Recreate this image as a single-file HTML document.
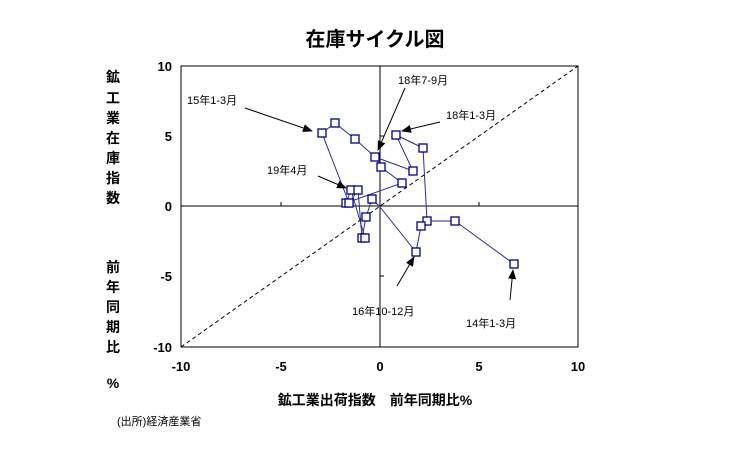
<!DOCTYPE html><html><head><meta charset="utf-8"><style>body{margin:0;background:#fff}svg text{font-family:"Liberation Sans","Noto Sans CJK JP",sans-serif}</style></head><body>
<svg width="746" height="457" xmlns="http://www.w3.org/2000/svg">
<defs><marker id="ar" markerWidth="10" markerHeight="8" refX="9" refY="4" orient="auto" markerUnits="userSpaceOnUse"><path d="M0,0L10,4L0,8z" fill="#000"/></marker></defs>
<text x="375" y="46" font-size="20" font-weight="bold" text-anchor="middle">在庫サイクル図</text>
<rect x="181" y="66" width="397" height="281" fill="none" stroke="#000" stroke-width="1"/>
<line x1="181" y1="206" x2="578" y2="206" stroke="#000"/>
<line x1="380" y1="66" x2="380" y2="347" stroke="#000"/>
<g stroke="#000"><line x1="281" y1="206" x2="281" y2="202"/><line x1="479" y1="206" x2="479" y2="202"/><line x1="380" y1="136" x2="384" y2="136"/><line x1="380" y1="276" x2="384" y2="276"/></g>
<line x1="181" y1="347" x2="578" y2="66" stroke="#000" stroke-dasharray="4,3"/>
<g font-size="13" font-weight="bold" text-anchor="middle"><text x="181" y="371">-10</text><text x="281" y="371">-5</text><text x="380" y="371">0</text><text x="479" y="371">5</text><text x="578" y="371">10</text></g>
<g font-size="13" font-weight="bold" text-anchor="end"><text x="172" y="71">10</text><text x="172" y="141">5</text><text x="172" y="211">0</text><text x="172" y="281">-5</text><text x="172" y="352">-10</text></g>
<g font-size="14" font-weight="bold" text-anchor="middle"><text x="113" y="82">鉱</text><text x="113" y="103">工</text><text x="113" y="123">業</text><text x="113" y="143">在</text><text x="113" y="163">庫</text><text x="113" y="183">指</text><text x="113" y="203">数</text><text x="113" y="272">前</text><text x="113" y="292">年</text><text x="113" y="312">同</text><text x="113" y="332">期</text><text x="113" y="352">比</text><text x="113" y="388">%</text></g>
<text x="375" y="405" font-size="14" font-weight="bold" text-anchor="middle">鉱工業出荷指数　前年同期比%</text>
<text x="117" y="425" font-size="11">(出所)経済産業省</text>
<polyline fill="none" stroke="#2a2a9a" stroke-width="1" points="514,264 455,221 427,221 421,226 416,252 380,207 372,199 366,217 362,238 358,190 349,203 322,133 335,123 355,139 375,157 413,171 396,135 423,148 427,221"/>
<polyline fill="none" stroke="#2a2a9a" stroke-width="1" points="375,157 381,167 402,183 346,203 351,190 365,238"/>
<g fill="#fff" stroke="#00008b" stroke-width="1.3">
<rect x="510" y="260" width="8" height="8"/><rect x="451" y="217" width="8" height="8"/><rect x="423" y="217" width="8" height="8"/><rect x="417" y="222" width="8" height="8"/><rect x="412" y="248" width="8" height="8"/><rect x="368" y="195" width="8" height="8"/><rect x="362" y="213" width="8" height="8"/><rect x="358" y="234" width="8" height="8"/><rect x="361" y="234" width="8" height="8"/><rect x="347" y="186" width="8" height="8"/><rect x="354" y="186" width="8" height="8"/><rect x="342" y="199" width="8" height="8"/><rect x="345" y="199" width="8" height="8"/><rect x="318" y="129" width="8" height="8"/><rect x="331" y="119" width="8" height="8"/><rect x="351" y="135" width="8" height="8"/><rect x="371" y="153" width="8" height="8"/><rect x="377" y="163" width="8" height="8"/><rect x="409" y="167" width="8" height="8"/><rect x="392" y="131" width="8" height="8"/><rect x="419" y="144" width="8" height="8"/><rect x="398" y="179" width="8" height="8"/>
</g>
<g font-size="11" fill="#000">
<text x="187" y="104">15年1-3月</text><text x="398" y="84">18年7-9月</text><text x="446" y="119">18年1-3月</text><text x="267" y="174">19年4月</text><text x="352" y="315">16年10-12月</text><text x="466" y="327">14年1-3月</text>
</g>
<g stroke="#000" stroke-width="1" marker-end="url(#ar)">
<line x1="245" y1="108" x2="312" y2="131"/><line x1="405" y1="88" x2="378" y2="150"/><line x1="440" y1="122" x2="402" y2="131"/><line x1="318" y1="176" x2="346" y2="188"/><line x1="397" y1="286" x2="414" y2="257"/><line x1="510" y1="300" x2="513" y2="270"/>
</g>
</svg></body></html>
